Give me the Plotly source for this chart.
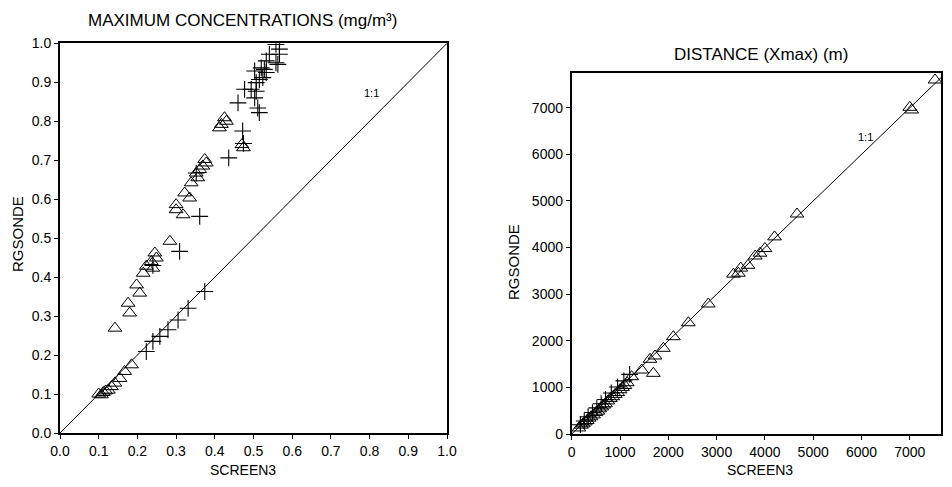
import plotly.graph_objects as go

# ---------- Left panel: maximum concentrations ----------
conc_tri_x = [0.100, 0.107, 0.112, 0.118, 0.125, 0.133, 0.142, 0.155, 0.167, 0.185,
              0.142, 0.176, 0.180, 0.198, 0.206, 0.215, 0.223, 0.236, 0.245, 0.249,
              0.240, 0.284, 0.300, 0.300, 0.318, 0.335, 0.322, 0.339, 0.352, 0.356,
              0.361, 0.369, 0.374, 0.378, 0.412, 0.417, 0.425, 0.430, 0.474, 0.470]
conc_tri_y = [0.100, 0.098, 0.104, 0.108, 0.110, 0.119, 0.128, 0.140, 0.158, 0.175,
              0.269, 0.333, 0.308, 0.380, 0.359, 0.410, 0.428, 0.440, 0.462, 0.449,
              0.423, 0.492, 0.586, 0.573, 0.560, 0.603, 0.616, 0.642, 0.667, 0.655,
              0.676, 0.685, 0.702, 0.693, 0.783, 0.792, 0.809, 0.800, 0.732, 0.740]

conc_plus_x = [0.223, 0.240, 0.258, 0.279, 0.305, 0.331, 0.374,
               0.240, 0.309, 0.361, 0.352, 0.436, 0.474, 0.472, 0.460, 0.511, 0.515,
               0.503, 0.477, 0.494, 0.507, 0.507, 0.515, 0.503, 0.533, 0.520, 0.528,
               0.533, 0.541, 0.558, 0.567, 0.567, 0.558, 0.563, 0.524]
conc_plus_y = [0.209, 0.235, 0.248, 0.265, 0.290, 0.320, 0.363,
               0.430, 0.466, 0.556, 0.667, 0.706, 0.743, 0.775, 0.847, 0.834, 0.822,
               0.860, 0.882, 0.882, 0.877, 0.899, 0.907, 0.929, 0.925, 0.937, 0.933,
               0.955, 0.972, 0.950, 0.972, 0.985, 0.997, 0.946, 0.912]

conc_ticks = [0.0, 0.1, 0.2, 0.3, 0.4, 0.5, 0.6, 0.7, 0.8, 0.9, 1.0]
conc_ticklabels = ["0.0", "0.1", "0.2", "0.3", "0.4", "0.5", "0.6", "0.7", "0.8", "0.9", "1.0"]
conc_one_to_one = [0.0, 1.0]

# ---------- Right panel: distance Xmax ----------
dist_tri_x = [150, 200, 240, 280, 320, 360, 400, 450, 500, 540, 580, 620, 660, 700,
              750, 800, 850, 900, 950, 1000, 1050, 1100, 1150, 1240, 1450, 1690,
              1621, 1725, 1897, 2104, 2414, 2828, 3350, 3450, 3500, 3650, 3800,
              3900, 4000, 4200, 4665, 7000, 7039, 7522]
dist_tri_y = [130, 190, 220, 260, 290, 340, 370, 410, 460, 490, 540, 580, 620, 650,
              710, 760, 800, 850, 890, 950, 1000, 1040, 1100, 1230, 1373, 1302,
              1603, 1674, 1839, 2088, 2388, 2790, 3430, 3450, 3560, 3620, 3820,
              3880, 3980, 4230, 4721, 7010, 6953, 7597]

dist_plus_x = [180, 260, 340, 430, 520, 610, 700, 820, 950, 1080, 1200]
dist_plus_y = [200, 280, 370, 460, 560, 650, 740, 880, 1010, 1140, 1280]

dist_ticks = [0, 1000, 2000, 3000, 4000, 5000, 6000, 7000]
dist_ticklabels = ["0", "1000", "2000", "3000", "4000", "5000", "6000", "7000"]
dist_one_to_one = [0, 7800]

FONT = "Liberation Sans, Arial, sans-serif"
OFF = 8                      # page body margin of the browser
W, H = 952 - 2 * OFF, 487 - 2 * OFF
ML, MR, MT, MB = 52, 3, 35, 37
PW, PH = W - ML - MR, H - MT - MB


def px(x):                   # reference-screenshot pixel -> paper fraction
    return (x - OFF - ML) / PW


def py(y):
    return (H - MB - (y - OFF)) / PH


tri = dict(symbol="triangle-up-open", size=12, color="black", line=dict(width=1, color="black"))
plus = dict(symbol="cross-thin", size=12, color="black", line=dict(width=1.1, color="black"))

fig = go.Figure()
fig.add_trace(go.Scatter(x=conc_one_to_one, y=conc_one_to_one, mode="lines",
                         line=dict(color="black", width=1), xaxis="x", yaxis="y", showlegend=False))
fig.add_trace(go.Scatter(x=conc_tri_x, y=conc_tri_y, mode="markers", marker=tri,
                         xaxis="x", yaxis="y", showlegend=False))
fig.add_trace(go.Scatter(x=conc_plus_x, y=conc_plus_y, mode="markers", marker=plus,
                         xaxis="x", yaxis="y", showlegend=False))

fig.add_trace(go.Scatter(x=dist_one_to_one, y=dist_one_to_one, mode="lines",
                         line=dict(color="black", width=1), xaxis="x2", yaxis="y2", showlegend=False))
fig.add_trace(go.Scatter(x=dist_tri_x, y=dist_tri_y, mode="markers", marker=tri,
                         xaxis="x2", yaxis="y2", showlegend=False))
fig.add_trace(go.Scatter(x=dist_plus_x, y=dist_plus_y, mode="markers", marker=plus,
                         xaxis="x2", yaxis="y2", showlegend=False))

axis_common = dict(showgrid=False, zeroline=False, showline=True, linecolor="black",
                   linewidth=1.8, mirror=True, ticks="outside", ticklen=4, tickwidth=1.3,
                   tickcolor="black", automargin=False,
                   tickfont=dict(family=FONT, size=14, color="black"))

# right panel: same scale as the reference (48.3 px per 1000 m), box ends at 941 px
x2_right = 941
x2_max = (x2_right - 571.7) / 48.3 * 1000

fig.update_layout(
    width=W, height=H,
    margin=dict(l=ML, r=MR, t=MT, b=MB, autoexpand=False),
    paper_bgcolor="white", plot_bgcolor="white",
    font=dict(family=FONT, color="black"),
    xaxis=dict(domain=[px(60), px(447)], range=[0, 1], tickvals=conc_ticks,
               ticktext=conc_ticklabels, anchor="y", **axis_common),
    yaxis=dict(domain=[py(433), py(43.3)], range=[0, 1], tickvals=conc_ticks,
               ticktext=conc_ticklabels, anchor="x", **axis_common),
    xaxis2=dict(domain=[px(571.7), px(x2_right)], range=[0, x2_max], tickvals=dist_ticks,
                ticktext=dist_ticklabels, anchor="y2", **axis_common),
    yaxis2=dict(domain=[py(434), py(72.7)], range=[0, 7753], tickvals=dist_ticks,
                ticktext=dist_ticklabels, anchor="x2", **axis_common),
)


def label(text, x, y, size, angle=0):
    fig.add_annotation(text=text, x=px(x), y=py(y), xref="paper", yref="paper",
                       xanchor="center", yanchor="middle",
                       showarrow=False, textangle=angle,
                       font=dict(family=FONT, size=size, color="black"))


label("MAXIMUM CONCENTRATIONS (mg/m³)", 242, 21, 17)
label("DISTANCE (Xmax) (m)", 761, 54, 17)
label("SCREEN3", 243, 470, 14)
label("SCREEN3", 760, 470, 14)
label("RGSONDE", 17, 234, 15, -90)
label("RGSONDE", 513, 262, 15, -90)
label("1:1", 371, 93, 11)
label("1:1", 865, 137, 11)

fig.write_html("out.html")
